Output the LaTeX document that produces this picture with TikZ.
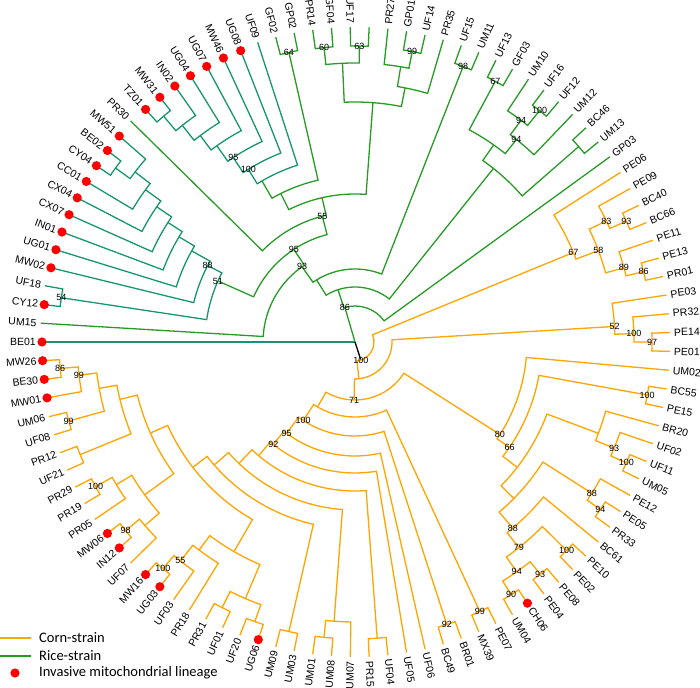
\documentclass[tikz,border=0pt]{standalone}
\usepackage{fontspec}
\setmainfont{Liberation Sans}
\newfontfamily\legfont{Carlito}
\definecolor{cg}{RGB}{38,155,38}
\definecolor{ct}{RGB}{22,150,112}
\definecolor{co}{RGB}{255,165,0}
\def\k{3.4285714}
\tikzset{
  edge/.style={line width=1.3pt, line join=miter, line cap=butt},
  rl/.style={edge, draw=cg},
  tl/.style={edge, draw=ct},
  cl/.style={edge, draw=co},
  bl/.style={edge, draw=black},
  leaf/.style={font=\fontsize{10.5}{12}\selectfont, inner sep=0pt, text=black},
  bs/.style={font=\fontsize{9}{10}\selectfont, inner sep=0pt, text=black},
  leg/.style={font=\legfont\fontsize{14.5}{16}\selectfont, inner sep=0pt, anchor=west},
  dotm/.style={fill=red, draw=none}
}
% internal node: style, radius, child A index, child A radius, child B index, child B radius
\newcommand\Nd[6]{\draw[#1] ({180-#3*\k}:#4pt) -- ({180-#3*\k}:#2pt) arc[start angle={180-#3*\k}, end angle={180-#5*\k}, radius=#2pt] -- ({180-#5*\k}:#6pt);}
% leaf labels (right and left half)
\newcommand\LR[2]{\node[leaf, rotate={180-#1*\k}, anchor=west] (L#1) at ({180-#1*\k}:319pt) {#2};}
\newcommand\LL[2]{\node[leaf, rotate={360-#1*\k}, anchor=east] (L#1) at ({180-#1*\k}:319pt) {#2};}
\newcommand\Dt[1]{\fill[dotm] ({180-#1*\k}:313pt) circle[radius=4.6pt];}
% bootstrap label: name, index, radius, text
\newcommand\Bs[4]{\node[bs] (#1) at ({180-#2*\k}:#3pt) {#4};}
\begin{document}
\begin{tikzpicture}[x=1pt,y=1pt]
\useasboundingbox (0,0) rectangle (700,687);
\begin{scope}[shift={(355,345)}]
\coordinate (root) at (0,0);
% root edges
\draw[tl] (root) -- (180:315pt);
\draw[rl] (root) -- ({180-21.5*\k}:36pt);
\draw[bl] (root) -- ({180-73.5*\k}:19pt);
% ---------------- rice (green) ----------------
\Nd{rl}{36}{21}{55}{42}{315}
\Nd{rl}{55}{17}{73}{37.5}{222}
\Nd{rl}{73}{16}{92}{32.5}{296}
\Nd{rl}{92}{1}{315}{16.5}{111}
\Nd{rl}{111}{7}{150}{22}{130}
\Nd{tl}{150}{2.5}{297}{8}{166}
\Nd{tl}{297}{2}{315}{3}{315}
\Nd{tl}{166}{4}{315}{8.5}{187}
\Nd{tl}{187}{5}{315}{9}{205}
\Nd{tl}{205}{6}{315}{9.5}{222}
\Nd{tl}{222}{7}{315}{10}{240}
\Nd{tl}{240}{8}{315}{10.5}{259}
\Nd{tl}{259}{9}{315}{11}{278}
\Nd{tl}{278}{10.5}{296}{12}{315}
\Nd{tl}{296}{10}{315}{11}{315}
\Nd{rl}{130}{13}{315}{22.5}{148}
\Nd{rl}{148}{18.5}{166}{27.5}{240}
\Nd{rl}{166}{17.5}{186}{22.5}{297}
\Nd{tl}{186}{17}{203}{21}{315}
\Nd{tl}{203}{16.5}{221}{20}{315}
\Nd{tl}{221}{16}{240}{19}{315}
\Nd{tl}{240}{15.5}{258}{18}{315}
\Nd{tl}{258}{15}{277}{17}{315}
\Nd{tl}{277}{14.5}{296}{16}{315}
\Nd{tl}{296}{14}{315}{15}{315}
\Nd{rl}{297}{22}{315}{23}{315}
\Nd{rl}{240}{25.5}{279}{29.5}{259}
\Nd{rl}{279}{24.5}{296}{26.5}{296}
\Nd{rl}{296}{24}{315}{25}{315}
\Nd{rl}{296}{26}{315}{27}{315}
\Nd{rl}{259}{29}{279}{31}{315}
\Nd{rl}{279}{28}{315}{29.5}{296}
\Nd{rl}{296}{29}{315}{30}{315}
\Nd{rl}{296}{32}{315}{33}{315}
\Nd{rl}{222}{36.5}{241}{40.5}{297}
\Nd{rl}{241}{34.5}{296}{37.5}{259}
\Nd{rl}{296}{34}{315}{35}{315}
\Nd{rl}{259}{37}{277}{39}{315}
\Nd{rl}{277}{36}{315}{37.5}{296}
\Nd{rl}{296}{37}{315}{38}{315}
\Nd{rl}{297}{40}{315}{41}{315}
% ---------------- corn (orange) ----------------
\Nd{cl}{19}{46}{236}{77}{37}
\Nd{cl}{37}{51.5}{260}{79}{58}
\Nd{cl}{58}{62}{172}{87.5}{75}
\Nd{cl}{236}{43}{315}{46.5}{260}
\Nd{cl}{260}{45}{279}{48}{279}
\Nd{cl}{279}{44}{315}{45.5}{297}
\Nd{cl}{297}{45}{315}{46}{315}
\Nd{cl}{279}{47}{315}{48.5}{297}
\Nd{cl}{297}{48}{315}{49}{315}
\Nd{cl}{260}{50}{315}{52}{279}
\Nd{cl}{279}{51}{315}{52.5}{297}
\Nd{cl}{297}{52}{315}{53}{315}
\Nd{cl}{172}{54}{315}{62.5}{187}
\Nd{cl}{187}{55.5}{297}{63.5}{205}
\Nd{cl}{297}{55}{315}{56}{315}
\Nd{cl}{205}{58.5}{260}{65.5}{223}
\Nd{cl}{260}{57}{315}{59}{280}
\Nd{cl}{280}{58}{315}{59.5}{297}
\Nd{cl}{297}{59}{315}{60}{315}
\Nd{cl}{223}{62}{281}{67}{244}
\Nd{cl}{281}{61}{315}{62.5}{297}
\Nd{cl}{297}{62}{315}{63}{315}
\Nd{cl}{244}{64}{315}{67.5}{263}
\Nd{cl}{263}{65.5}{297}{68.5}{281}
\Nd{cl}{297}{65}{315}{66}{315}
\Nd{cl}{281}{67.5}{297}{69.5}{297}
\Nd{cl}{297}{67}{315}{68}{315}
\Nd{cl}{297}{69}{315}{70}{315}
\Nd{cl}{75}{71.5}{297}{88.5}{94}
\Nd{cl}{297}{71}{315}{72}{315}
\Nd{cl}{94}{73.5}{297}{89.5}{114}
\Nd{cl}{297}{73}{315}{74}{315}
\Nd{cl}{114}{75}{315}{90}{131}
\Nd{cl}{131}{76}{315}{90.5}{149}
\Nd{cl}{149}{77.5}{297}{91.5}{168}
\Nd{cl}{297}{77}{315}{78}{315}
\Nd{cl}{168}{80}{280}{93}{187}
\Nd{cl}{280}{79}{315}{80.5}{297}
\Nd{cl}{297}{80}{315}{81}{315}
\Nd{cl}{187}{82.5}{297}{94}{205}
\Nd{cl}{297}{82}{315}{83}{315}
\Nd{cl}{205}{87.5}{242}{98}{224}
\Nd{cl}{242}{85.5}{279}{89.5}{260}
\Nd{cl}{279}{84.5}{297}{86.5}{297}
\Nd{cl}{297}{84}{315}{85}{315}
\Nd{cl}{297}{86}{315}{87}{315}
\Nd{cl}{260}{88}{315}{90}{280}
\Nd{cl}{280}{89}{315}{90.5}{297}
\Nd{cl}{297}{90}{315}{91}{315}
\Nd{cl}{224}{94.5}{260}{101}{242}
\Nd{cl}{260}{93}{279}{96}{278}
\Nd{cl}{279}{92}{315}{93.5}{297}
\Nd{cl}{297}{93}{315}{94}{315}
\Nd{cl}{278}{95}{315}{96.5}{297}
\Nd{cl}{297}{96}{315}{97}{315}
\Nd{cl}{242}{98.5}{297}{102}{260}
\Nd{cl}{297}{98}{315}{99}{315}
\Nd{cl}{260}{100.5}{297}{103}{278}
\Nd{cl}{297}{100}{315}{101}{315}
\Nd{cl}{278}{102}{315}{103.5}{296}
\Nd{cl}{296}{103}{315}{104}{315}
% ---------------- red dots ----------------
\foreach \i in {0,2,4,5,6,7,8,9,10,11,12,14,15,16,17,18,19,20,69,84,90,91,93,94,102,103,104} {\Dt{\i}}
% ---------------- leaf labels ----------------
\LL{0}{BE01}\LL{1}{UM15}\LL{2}{CY12}\LL{3}{UF18}\LL{4}{MW02}\LL{5}{UG01}
\LL{6}{IN01}\LL{7}{CX07}\LL{8}{CX04}\LL{9}{CC01}\LL{10}{CY04}\LL{11}{BE02}
\LL{12}{MW51}\LL{13}{PR30}\LL{14}{TZ01}\LL{15}{MW31}\LL{16}{IN02}\LL{17}{UG04}
\LL{18}{UG07}\LL{19}{MW46}\LL{20}{UG08}\LL{21}{UF09}\LL{22}{GF02}\LL{23}{GP02}
\LL{24}{PR14}\LL{25}{GF04}\LL{26}{UF17}
\LR{28}{PR27}\LR{29}{GP01}\LR{30}{UF14}\LR{31}{PR35}\LR{32}{UF15}\LR{33}{UM11}
\LR{34}{UF13}\LR{35}{GF03}\LR{36}{UM10}\LR{37}{UF16}\LR{38}{UF12}\LR{39}{UM12}
\LR{40}{BC46}\LR{41}{UM13}\LR{42}{GP03}
\LR{43}{PE06}\LR{44}{PE09}\LR{45}{BC40}\LR{46}{BC66}\LR{47}{PE11}\LR{48}{PE13}
\LR{49}{PR01}\LR{50}{PE03}\LR{51}{PR32}\LR{52}{PE14}\LR{53}{PE01}\LR{54}{UM02}
\LR{55}{BC55}\LR{56}{PE15}\LR{57}{BR20}\LR{58}{UF02}\LR{59}{UF11}\LR{60}{UM05}
\LR{61}{PE12}\LR{62}{PE05}\LR{63}{PR33}\LR{64}{BC61}\LR{65}{PE10}\LR{66}{PE02}
\LR{67}{PE08}\LR{68}{PE04}\LR{69}{CH06}\LR{70}{UM04}\LR{71}{PE07}\LR{72}{MX39}
\LR{73}{BR01}\LR{74}{BC49}\LR{75}{UF06}\LR{76}{UF05}\LR{77}{UF04}\LR{78}{PR15}
\LL{79}{UM07}\LL{80}{UM08}\LL{81}{UM01}\LL{82}{UM03}\LL{83}{UM09}\LL{84}{UG06}
\LL{85}{UF20}\LL{86}{UF01}\LL{87}{PR31}\LL{88}{PR18}\LL{89}{UF03}\LL{90}{UG03}
\LL{91}{MW16}\LL{92}{UF07}\LL{93}{IN12}\LL{94}{MW06}\LL{95}{PR05}\LL{96}{PR19}
\LL{97}{PR29}\LL{98}{UF21}\LL{99}{PR12}\LL{100}{UF08}\LL{101}{UM06}\LL{102}{MW01}
\LL{103}{BE30}\LL{104}{MW26}
% ---------------- bootstrap values ----------------
\Bs{g86}{21.5}{36}{86}
\Bs{g93}{16}{92}{93}
\Bs{g95}{16.5}{111}{95}
\Bs{g55}{22}{130}{55}
\Bs{g51}{7}{150}{51}
\Bs{g88}{8}{166}{88}
\Bs{g54}{2.5}{297}{54}
\Bs{gt100}{17}{203}{100}
\Bs{gt95}{16.5}{221}{95}
\Bs{g64}{22.5}{297}{64}
\Bs{g60}{24.5}{296}{60}
\Bs{g63}{26.5}{296}{63}
\Bs{g99}{29.5}{296}{99}
\Bs{g98}{32.5}{296}{98}
\Bs{g67}{34.5}{296}{67}
\Bs{g94a}{37.5}{259}{94}
\Bs{g94b}{37}{277}{94}
\Bs{g100}{37.5}{296}{100}
\Bs{o100}{73.5}{19}{100}
\Bs{o71}{79}{58}{71}
\Bs{o80}{62}{172}{80}
\Bs{o66}{62.5}{187}{66}
\Bs{o100a}{55.5}{297}{100}
\Bs{o93a}{59}{280}{93}
\Bs{o100b}{59.5}{297}{100}
\Bs{o88a}{62}{281}{88}
\Bs{o94a}{62.5}{297}{94}
\Bs{o88b}{67}{244}{88}
\Bs{o79}{67.5}{263}{79}
\Bs{o100c}{65.5}{297}{100}
\Bs{o94b}{68.5}{281}{94}
\Bs{o93b}{67.5}{297}{93}
\Bs{o90}{69.5}{297}{90}
\Bs{o99a}{71.5}{297}{99}
\Bs{o100d}{88.5}{94}{100}
\Bs{o92a}{73.5}{297}{92}
\Bs{o95}{89.5}{114}{95}
\Bs{o92b}{90}{131}{92}
\Bs{o67}{46}{236}{67}
\Bs{o58}{46.5}{260}{58}
\Bs{o83}{45}{279}{83}
\Bs{o93c}{45.5}{297}{93}
\Bs{o89}{48}{279}{89}
\Bs{o86a}{48.5}{297}{86}
\Bs{o52}{51.5}{260}{52}
\Bs{o100e}{52}{279}{100}
\Bs{o97}{52.5}{297}{97}
\Bs{o55}{90}{280}{55}
\Bs{o100f}{90.5}{297}{100}
\Bs{o98}{93.5}{297}{98}
\Bs{o100g}{96.5}{297}{100}
\Bs{o99b}{100.5}{297}{99}
\Bs{o99c}{103}{278}{99}
\Bs{o86b}{103.5}{296}{86}
\end{scope}
% ---------------- legend ----------------
\coordinate (c1a) at (0,49); \coordinate (c1b) at (31,49);
\coordinate (c2a) at (0,31); \coordinate (c2b) at (31,31);
\draw[cl] (c1a) -- (c1b);
\draw[rl] (c2a) -- (c2b);
\fill[dotm] (15,14) circle[radius=4.6pt];
\node[leg] (lcorn) at (39,49) {Corn-strain};
\node[leg] (lrice) at (39,31) {Rice-strain};
\node[leg] (linv) at (39,14) {Invasive mitochondrial lineage};
\end{tikzpicture}
\end{document}
